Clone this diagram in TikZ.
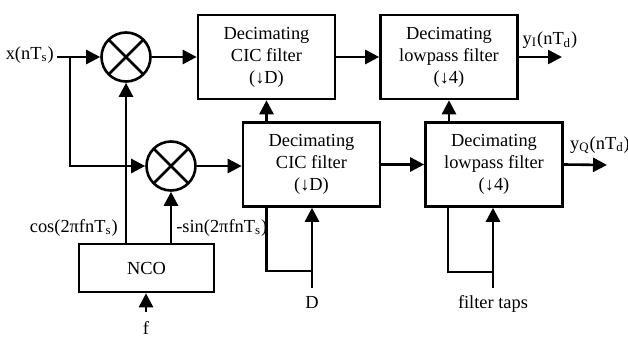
\documentclass[tikz,border=0pt]{standalone}
\usepackage{fontspec}
\setmainfont{Liberation Serif}
\usepackage{tikz}
\usetikzlibrary{arrows.meta}

\begin{document}
\begin{tikzpicture}[x=0.5pt,y=-0.5pt,line width=1.3pt,
		font=\fontsize{9.2}{11}\selectfont,
		sig/.style={-{Triangle[length=7pt,width=7pt]}},
		filt/.style={draw,align=center,minimum width=68.5pt,minimum height=42pt,inner sep=0pt},
		mixer/.style={draw,circle,minimum size=24.5pt,inner sep=0pt,
			path picture={\draw (path picture bounding box.north west) -- (path picture bounding box.south east)
				(path picture bounding box.north east) -- (path picture bounding box.south west);}}]
		\useasboundingbox (0,0) rectangle (628,338);
		\node[mixer] (mix1) at (126,57) {};
		\node[mixer] (mix2) at (171,166) {};
		\node[filt] (cic1) at (266.5,57) {Decimating\\CIC filter\\(↓D)};
		\node[filt] (lp1) at (449,57) {Decimating\\lowpass filter\\(↓4)};
		\node[filt] (cic2) at (311.5,164.5) {Decimating\\CIC filter\\(↓D)};
		\node[filt] (lp2) at (494,164.5) {Decimating\\lowpass filter\\(↓4)};
		\node[draw,minimum width=67.5pt,minimum height=24pt] (nco) at (146.5,268) {NCO};
		\node[anchor=east,inner sep=1pt] (xin) at (57,55) {x(nT\textsubscript{s})};
		\node (yi) at (550,40) {y\textsubscript{I}(nT\textsubscript{d})};
		\node (yq) at (600,145) {y\textsubscript{Q}(nT\textsubscript{d})};
		\node[anchor=east,inner sep=1pt] at (121,228) {cos(2πfnT\textsubscript{s})};
		\node[anchor=west,inner sep=1pt] at (173,228) {-sin(2πfnT\textsubscript{s})};
		\node[anchor=south,inner sep=1pt] (f) at (146,338) {f};
		\node (dlab) at (312,302) {D};
		\node (taps) at (493,304) {filter taps};
		\coordinate (br) at (70,57);
		\coordinate (iout) at (562,57);
		\coordinate (qout) at (607,165);
		\coordinate (dj) at (312,271);
		\coordinate (tj) at (493,272);
		\draw[sig] (xin.east |- mix1) -- (mix1.west);
		\draw[sig] (br) |- (mix2.west);
		\draw[sig] (mix1.east) -- (cic1.west);
		\draw[sig] (cic1.east) -- (lp1.west);
		\draw[sig] (lp1.east) -- (iout);
		\draw[sig] (mix2.east) -- (mix2.east -| cic2.west);
		\draw[sig] (cic2.east) -- (lp2.west);
		\draw[sig] (lp2.east) -- (qout);
		\draw[sig] (cic2.north -| cic1.south) -- (cic1.south);
		\draw[sig] (lp2.north -| lp1.south) -- (lp1.south);
		\draw[sig] (nco.north -| mix1) -- (mix1.south);
		\draw[sig] (nco.north -| mix2) -- (mix2.south);
		\draw[sig] ([yshift=3pt]f.north) -- (f.north |- nco.south);
		\draw[sig] (dlab.north) -- (dlab.north |- cic2.south);
		\draw ([xshift=-22.5pt]cic2.south) |- (dj);
		\draw[sig] (taps.north) -- (taps.north |- lp2.south);
		\draw ([xshift=-23pt]lp2.south) |- (tj);
	\end{tikzpicture}
\end{document}
